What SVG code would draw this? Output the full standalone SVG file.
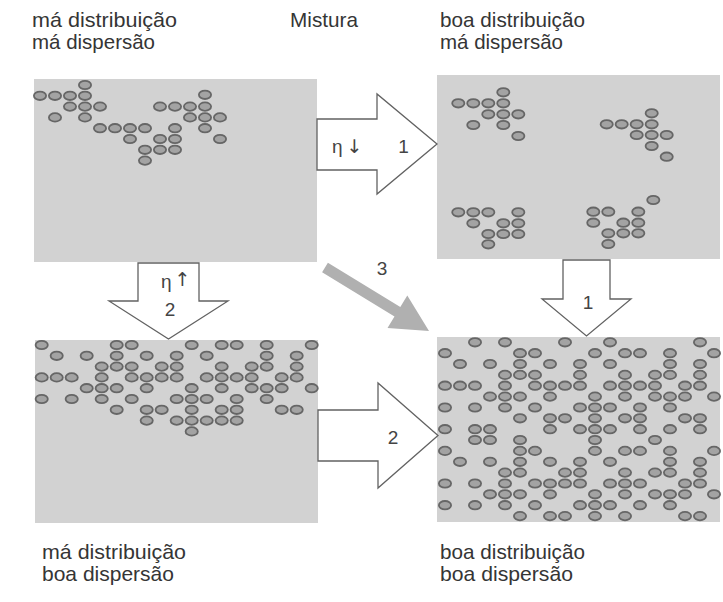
<svg xmlns="http://www.w3.org/2000/svg" xmlns:xlink="http://www.w3.org/1999/xlink" width="723" height="602" viewBox="0 0 723 602">
<style>
.lbl{font-family:"Liberation Sans",Arial,sans-serif;font-size:21px;fill:#353535}
.num{font-family:"Liberation Sans",Arial,sans-serif;font-size:19px;fill:#444}
.ar{font-family:"DejaVu Sans",sans-serif;font-size:19px}
.panel{fill:#d2d2d2}
.arr{fill:#fff;stroke:#626262;stroke-width:1.3;stroke-linejoin:miter}
.arr3{fill:#b0b0b0}
</style>
<defs>
<ellipse id="e" cx="0" cy="0" rx="6.1" ry="4.2" fill="#a3a3a3" stroke="#666" stroke-width="1.8"/>
</defs>
<rect width="723" height="602" fill="#fff"/>

<g id="label-top-left">
<text class="lbl" x="32" y="27" textLength="145" lengthAdjust="spacingAndGlyphs">má distribuição</text>
<text class="lbl" x="32" y="49" textLength="123" lengthAdjust="spacingAndGlyphs">má dispersão</text>
</g>
<g id="label-mistura"><text class="lbl" x="290" y="27" textLength="68" lengthAdjust="spacingAndGlyphs">Mistura</text></g>
<g id="label-top-right">
<text class="lbl" x="440" y="27" textLength="145" lengthAdjust="spacingAndGlyphs">boa distribuição</text>
<text class="lbl" x="440" y="49" textLength="123" lengthAdjust="spacingAndGlyphs">má dispersão</text>
</g>
<g id="label-bottom-left">
<text class="lbl" x="42" y="559" textLength="144" lengthAdjust="spacingAndGlyphs">má distribuição</text>
<text class="lbl" x="42" y="581" textLength="132" lengthAdjust="spacingAndGlyphs">boa dispersão</text>
</g>
<g id="label-bottom-right">
<text class="lbl" x="440" y="559" textLength="145" lengthAdjust="spacingAndGlyphs">boa distribuição</text>
<text class="lbl" x="440" y="581" textLength="133" lengthAdjust="spacingAndGlyphs">boa dispersão</text>
</g>

<g id="panel-1">
<rect class="panel" x="34" y="79" width="283" height="183"/>
<g transform="translate(0,85)"><use href="#e" x="85"/></g>
<g transform="translate(0,95.8)"><use href="#e" x="40"/><use href="#e" x="55"/><use href="#e" x="70"/><use href="#e" x="85"/><use href="#e" x="205" y="-1"/></g>
<g transform="translate(0,106.6)"><use href="#e" x="70"/><use href="#e" x="85"/><use href="#e" x="100"/><use href="#e" x="160"/><use href="#e" x="175"/><use href="#e" x="190"/><use href="#e" x="205"/></g>
<g transform="translate(0,117.4)"><use href="#e" x="55"/><use href="#e" x="85"/><use href="#e" x="190"/><use href="#e" x="205"/><use href="#e" x="220"/></g>
<g transform="translate(0,128.2)"><use href="#e" x="100"/><use href="#e" x="115"/><use href="#e" x="130"/><use href="#e" x="145"/><use href="#e" x="175"/><use href="#e" x="205"/></g>
<g transform="translate(0,139)"><use href="#e" x="130"/><use href="#e" x="160"/><use href="#e" x="175"/><use href="#e" x="220"/></g>
<g transform="translate(0,149.8)"><use href="#e" x="145"/><use href="#e" x="160"/><use href="#e" x="175"/></g>
<g transform="translate(0,160.6)"><use href="#e" x="145"/></g>
</g>

<g id="panel-2">
<rect class="panel" x="437" y="75" width="283" height="184"/>
<use href="#e" x="503.3" y="92.3"/>
<use href="#e" x="458.3" y="103.3"/><use href="#e" x="473.3" y="103.3"/><use href="#e" x="488.3" y="103.3"/><use href="#e" x="503.3" y="103.3"/>
<use href="#e" x="488.3" y="114.3"/><use href="#e" x="503.3" y="114.3"/><use href="#e" x="518.3" y="114.3"/>
<use href="#e" x="473.3" y="125"/><use href="#e" x="503.3" y="125"/>
<use href="#e" x="518.3" y="136"/>
<use href="#e" x="651.7" y="113.3"/>
<use href="#e" x="606.7" y="124.3"/><use href="#e" x="621.7" y="124.3"/><use href="#e" x="636.7" y="124.3"/><use href="#e" x="651.7" y="124.3"/>
<use href="#e" x="636.7" y="135"/><use href="#e" x="651.7" y="135"/><use href="#e" x="666.7" y="135"/>
<use href="#e" x="651.7" y="146"/>
<use href="#e" x="666.7" y="156.7"/>
<use href="#e" x="458.3" y="212.3"/><use href="#e" x="473.3" y="212.3"/><use href="#e" x="488.3" y="212.3"/><use href="#e" x="518.3" y="212.3"/>
<use href="#e" x="473.3" y="223.3"/><use href="#e" x="503.3" y="223.3"/><use href="#e" x="518.3" y="223.3"/>
<use href="#e" x="488.3" y="234"/><use href="#e" x="503.3" y="234"/><use href="#e" x="518.3" y="234"/>
<use href="#e" x="488.3" y="244.3"/>
<use href="#e" x="653.3" y="200"/>
<use href="#e" x="593.3" y="211.7"/><use href="#e" x="608.3" y="211.7"/><use href="#e" x="638.3" y="211.7"/>
<use href="#e" x="593.3" y="222.7"/><use href="#e" x="623.3" y="222.7"/><use href="#e" x="638.3" y="222.7"/>
<use href="#e" x="608.3" y="233.3"/><use href="#e" x="623.3" y="233.3"/><use href="#e" x="638.3" y="233.3"/>
<use href="#e" x="608.3" y="244"/>
</g>

<g id="panel-3">
<rect class="panel" x="35" y="340" width="283" height="183"/>
<g transform="translate(0,345)"><use href="#e" x="41.7"/><use href="#e" x="116.7"/><use href="#e" x="131.7"/><use href="#e" x="191.7"/><use href="#e" x="221.7"/><use href="#e" x="236.7"/><use href="#e" x="266.7"/><use href="#e" x="311.7"/></g>
<g transform="translate(0,355.8)"><use href="#e" x="56.7"/><use href="#e" x="86.7"/><use href="#e" x="116.7"/><use href="#e" x="146.7"/><use href="#e" x="176.7"/><use href="#e" x="206.7"/><use href="#e" x="266.7"/><use href="#e" x="296.7"/></g>
<g transform="translate(0,366.6)"><use href="#e" x="101.7"/><use href="#e" x="116.7"/><use href="#e" x="131.7"/><use href="#e" x="161.7"/><use href="#e" x="176.7"/><use href="#e" x="221.7"/><use href="#e" x="251.7"/><use href="#e" x="266.7"/><use href="#e" x="296.7"/></g>
<g transform="translate(0,377.4)"><use href="#e" x="41.7"/><use href="#e" x="56.7"/><use href="#e" x="71.7"/><use href="#e" x="101.7"/><use href="#e" x="131.7"/><use href="#e" x="146.7"/><use href="#e" x="161.7"/><use href="#e" x="176.7"/><use href="#e" x="206.7"/><use href="#e" x="221.7"/><use href="#e" x="236.7"/><use href="#e" x="251.7"/><use href="#e" x="281.7"/><use href="#e" x="296.7"/></g>
<g transform="translate(0,388.2)"><use href="#e" x="86.7"/><use href="#e" x="101.7"/><use href="#e" x="116.7"/><use href="#e" x="146.7"/><use href="#e" x="191.7"/><use href="#e" x="221.7"/><use href="#e" x="251.7"/><use href="#e" x="266.7"/><use href="#e" x="281.7"/><use href="#e" x="311.7"/></g>
<g transform="translate(0,399)"><use href="#e" x="41.7"/><use href="#e" x="71.7"/><use href="#e" x="101.7"/><use href="#e" x="131.7"/><use href="#e" x="176.7"/><use href="#e" x="191.7"/><use href="#e" x="206.7"/><use href="#e" x="236.7"/><use href="#e" x="266.7"/></g>
<g transform="translate(0,409.8)"><use href="#e" x="116.7"/><use href="#e" x="146.7"/><use href="#e" x="161.7"/><use href="#e" x="191.7"/><use href="#e" x="221.7"/><use href="#e" x="236.7"/><use href="#e" x="281.7"/><use href="#e" x="296.7"/></g>
<g transform="translate(0,420.6)"><use href="#e" x="146.7"/><use href="#e" x="176.7"/><use href="#e" x="191.7"/><use href="#e" x="206.7"/><use href="#e" x="221.7"/><use href="#e" x="236.7"/></g>
<g transform="translate(0,431.4)"><use href="#e" x="191.7"/></g>
</g>

<g id="panel-4">
<rect class="panel" x="437" y="337" width="283" height="185"/>
<g transform="translate(0,342.3)"><use href="#e" x="475"/><use href="#e" x="505"/><use href="#e" x="565"/><use href="#e" x="610"/><use href="#e" x="700"/></g>
<g transform="translate(0,353.2)"><use href="#e" x="445"/><use href="#e" x="520"/><use href="#e" x="535"/><use href="#e" x="595"/><use href="#e" x="625"/><use href="#e" x="640"/><use href="#e" x="670"/><use href="#e" x="714"/></g>
<g transform="translate(0,364)"><use href="#e" x="460"/><use href="#e" x="490"/><use href="#e" x="520"/><use href="#e" x="550"/><use href="#e" x="580"/><use href="#e" x="610"/><use href="#e" x="670"/><use href="#e" x="700"/></g>
<g transform="translate(0,374.9)"><use href="#e" x="505"/><use href="#e" x="520"/><use href="#e" x="535"/><use href="#e" x="580"/><use href="#e" x="625"/><use href="#e" x="655"/><use href="#e" x="670"/><use href="#e" x="700"/></g>
<g transform="translate(0,385.7)"><use href="#e" x="445"/><use href="#e" x="460"/><use href="#e" x="475"/><use href="#e" x="505"/><use href="#e" x="535"/><use href="#e" x="550"/><use href="#e" x="565"/><use href="#e" x="580"/><use href="#e" x="610"/><use href="#e" x="625"/><use href="#e" x="640"/><use href="#e" x="655"/><use href="#e" x="685"/><use href="#e" x="700"/></g>
<g transform="translate(0,396.6)"><use href="#e" x="490"/><use href="#e" x="505"/><use href="#e" x="520"/><use href="#e" x="550"/><use href="#e" x="595"/><use href="#e" x="625"/><use href="#e" x="655"/><use href="#e" x="670"/><use href="#e" x="685"/><use href="#e" x="714"/></g>
<g transform="translate(0,407.5)"><use href="#e" x="445"/><use href="#e" x="475"/><use href="#e" x="505"/><use href="#e" x="535"/><use href="#e" x="580"/><use href="#e" x="595"/><use href="#e" x="610"/><use href="#e" x="640"/><use href="#e" x="670"/></g>
<g transform="translate(0,418.3)"><use href="#e" x="520"/><use href="#e" x="550"/><use href="#e" x="565"/><use href="#e" x="595"/><use href="#e" x="625"/><use href="#e" x="640"/><use href="#e" x="685"/><use href="#e" x="700"/></g>
<g transform="translate(0,429.2)"><use href="#e" x="445"/><use href="#e" x="475"/><use href="#e" x="490"/><use href="#e" x="550"/><use href="#e" x="580"/><use href="#e" x="595"/><use href="#e" x="610"/><use href="#e" x="640"/><use href="#e" x="670"/><use href="#e" x="700"/></g>
<g transform="translate(0,440)"><use href="#e" x="475"/><use href="#e" x="490"/><use href="#e" x="520"/><use href="#e" x="595"/><use href="#e" x="655"/></g>
<g transform="translate(0,450.9)"><use href="#e" x="445"/><use href="#e" x="520"/><use href="#e" x="535"/><use href="#e" x="595"/><use href="#e" x="625"/><use href="#e" x="640"/><use href="#e" x="670"/><use href="#e" x="714"/></g>
<g transform="translate(0,461.8)"><use href="#e" x="460"/><use href="#e" x="490"/><use href="#e" x="520"/><use href="#e" x="550"/><use href="#e" x="580"/><use href="#e" x="610"/><use href="#e" x="670"/><use href="#e" x="700"/></g>
<g transform="translate(0,472.6)"><use href="#e" x="505"/><use href="#e" x="520"/><use href="#e" x="565"/><use href="#e" x="580"/><use href="#e" x="625"/><use href="#e" x="655"/><use href="#e" x="670"/><use href="#e" x="700"/></g>
<g transform="translate(0,483.5)"><use href="#e" x="445"/><use href="#e" x="475"/><use href="#e" x="505"/><use href="#e" x="535"/><use href="#e" x="550"/><use href="#e" x="565"/><use href="#e" x="580"/><use href="#e" x="610"/><use href="#e" x="625"/><use href="#e" x="640"/><use href="#e" x="685"/><use href="#e" x="700"/></g>
<g transform="translate(0,494.3)"><use href="#e" x="490"/><use href="#e" x="505"/><use href="#e" x="520"/><use href="#e" x="550"/><use href="#e" x="595"/><use href="#e" x="625"/><use href="#e" x="655"/><use href="#e" x="670"/><use href="#e" x="685"/><use href="#e" x="714"/></g>
<g transform="translate(0,505.2)"><use href="#e" x="445"/><use href="#e" x="475"/><use href="#e" x="505"/><use href="#e" x="535"/><use href="#e" x="580"/><use href="#e" x="595"/><use href="#e" x="610"/><use href="#e" x="640"/><use href="#e" x="670"/></g>
<g transform="translate(0,516.1)"><use href="#e" x="520"/><use href="#e" x="550"/><use href="#e" x="565"/><use href="#e" x="595"/><use href="#e" x="625"/><use href="#e" x="685"/><use href="#e" x="700"/></g>
</g>

<g id="connectors">
<g id="arrow-1-top">
<path class="arr" d="M317,119 H377 V94 L437,144 L377,194 V170 H317 Z"/>
<text class="num" x="332" y="153">η<tspan class="ar" dx="4">↓</tspan></text>
<text class="num" x="403.5" y="153" text-anchor="middle">1</text>
</g>
<g id="arrow-2-left">
<path class="arr" d="M138,263 H199 V301 H228 L168.5,339 L109,301 H138 Z"/>
<text class="num" x="161" y="288">η<tspan class="ar" dx="3" dy="-2">↑</tspan></text>
<text class="num" x="170" y="316" text-anchor="middle">2</text>
</g>
<g id="arrow-1-right">
<path class="arr" d="M563,260 H610 V299 H631 L586.5,336 L542,299 H563 Z"/>
<text class="num" x="588" y="309" text-anchor="middle">1</text>
</g>
<g id="arrow-2-bottom">
<path class="arr" d="M318,410 H378 V383 L438,435.5 L378,488 V461 H318 Z"/>
<text class="num" x="393" y="444" text-anchor="middle">2</text>
</g>
<g id="arrow-3">
<polygon class="arr3" points="327.9,262.8 400.3,307 407.3,295.5 429,331 387.5,327.9 394.5,316.4 322.1,272.2"/>
<text class="num" x="382" y="275" text-anchor="middle">3</text>
</g>
</g>
</svg>
